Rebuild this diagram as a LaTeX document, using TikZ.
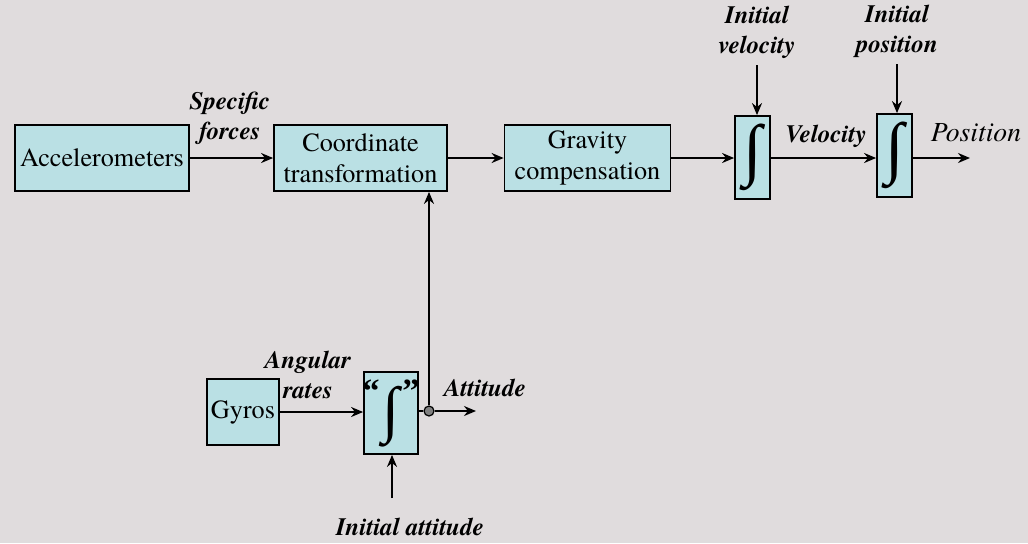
\documentclass[tikz,border=0pt]{standalone}
\usepackage{fontspec}
\setmainfont{texgyretermes}[Extension=.otf, UprightFont=*-regular, BoldFont=*-bold, ItalicFont=*-italic, BoldItalicFont=*-bolditalic]
\newfontfamily\intfont{Liberation Serif}
\usetikzlibrary{arrows.meta}
\definecolor{bgcol}{RGB}{224,220,221}
\definecolor{boxcol}{RGB}{186,224,228}

\begin{document}
\begin{tikzpicture}[x=0.5pt, y=-0.5pt,
  block/.style = {draw, fill=boxcol, line width=0.9pt, inner sep=0pt, align=center, font=\fontsize{13.1}{15.5}\selectfont},
  intbox/.style = {block, minimum width=17.5pt, minimum height=41.5pt, font=\intfont\bfseries\fontsize{34}{34}\selectfont},
  lbl/.style = {align=center, font=\fontsize{12.5}{15}\selectfont\bfseries\itshape},
  sig/.style = {-{Stealth[length=6pt, width=5pt]}, line width=0.9pt}]
\fill [bgcol] (0,0) rectangle (1028,543);
\useasboundingbox (0,0) rectangle (1028,543);

% top row
\node [block, minimum width=87pt, minimum height=33pt] (acc) at (102,158) {Accelerometers};
\node [block, minimum width=86.5pt, minimum height=33pt] (coord) at (360.5,158) {Coordinate\\transformation};
\node [block, minimum width=83pt, minimum height=33pt] (grav) at (587.5,158) {Gravity\\compensation};
\node [intbox] (intvel) at (752.5,157.5) {∫};
\node [intbox] (intpos) at (894.5,155.5) {∫};

\node [lbl] (specf) at (230,118) {Specific\\forces};
\node [lbl] (vel) at (826,136) {Velocity};
\node [align=center, font=\fontsize{13.8}{16}\selectfont\itshape] (pos) at (976,133) {Position};
\node [lbl] (ivel) at (757,32) {Initial\\velocity};
\node [lbl] (ipos) at (897,31) {Initial\\position};
\coordinate (posout) at (970,158);

\draw [sig] (acc) -- (coord);
\draw [sig] (coord) -- (grav);
\draw [sig] (grav.east) -- (grav.east -| intvel.west);
\draw [sig] (intvel.east |- grav.east) -- (grav.east -| intpos.west);
\draw [sig] (intpos.east |- posout) -- (posout);
\draw [sig] (ivel.south) -- (ivel.south |- intvel.north);
\draw [sig] (ipos.south) -- (ipos.south |- intpos.north);

% attitude path
\node [block, minimum width=36pt, minimum height=33pt] (gyro) at (243,412) {Gyros};
\node [block, minimum width=27pt, minimum height=41pt, font=\intfont\bfseries\fontsize{31}{31}\selectfont] (intatt) at (391,413) {\llap{\raisebox{14pt}{\fontsize{17}{17}\selectfont “\kern1.5pt}}∫\rlap{\raisebox{14pt}{\fontsize{17}{17}\selectfont\kern1.5pt ”}}};
\node [circle, draw, fill=gray, line width=0.6pt, inner sep=0pt, minimum size=5pt] (dot) at (429,411) {};
\node [lbl] (angr) at (308,375) {Angular\\rates};
\node [lbl] (att) at (485,388) {Attitude};
\node [lbl] (iatt) at (410,527) {Initial attitude};
\coordinate (attout) at (476,411);
\coordinate (iattin) at (392,498);

\draw [sig] (gyro.east) -- (intatt.west |- gyro.east);
\draw [line width=0.9pt] (intatt.east |- dot) -- (dot);
\draw [sig] (dot) -- (attout);
\draw [sig] (dot) -- (dot |- coord.south);
\draw [sig] (iattin) -- (iattin |- intatt.south);
\end{tikzpicture}
\end{document}
